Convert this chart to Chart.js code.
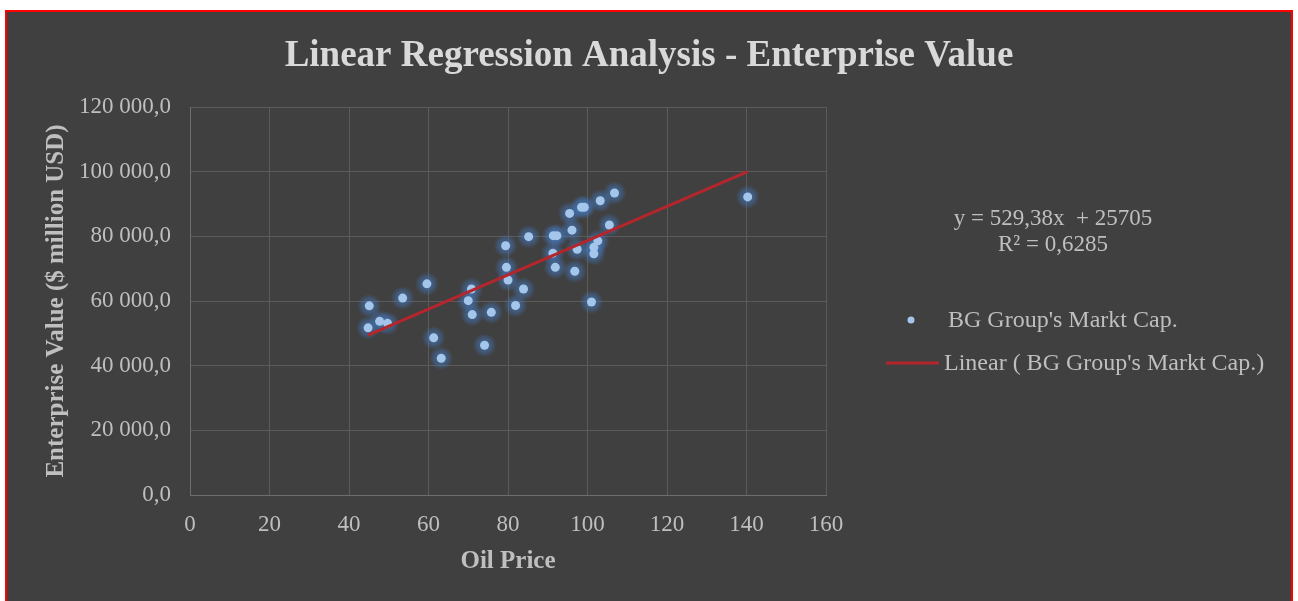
<!DOCTYPE html>
<html>
<head>
<meta charset="utf-8">
<script src="https://cdn.jsdelivr.net/npm/chart.js@4.4.1/dist/chart.umd.min.js"></script>
<style>
    body { margin: 0; background: #ffffff; }
    #frame {
        position: absolute;
        left: 5px;
        top: 10px;
        width: 1284px;
        height: 600px;
        border: 2px solid #ff0000;
        background: #404040;
    }
    #regChart { display: block; }
</style>
</head>
<body>
<div id="frame">
    <canvas id="regChart" width="1284" height="589"></canvas>
</div>
<script>
// Dữ liệu
const oilPrice = [
    44.8, 45.1, 47.7, 49.7, 53.5, 59.6, 61.3, 63.2, 70.0, 70.8,
    71.0, 74.1, 75.8, 79.4, 79.6, 80.0, 81.9, 83.9, 85.2, 91.3,
    91.4, 92.3, 91.9, 95.5, 96.1, 96.8, 97.4, 98.5, 99.2, 101.0,
    101.6, 101.6, 102.6, 103.2, 105.5, 106.8, 140.3
];
const enterpriseValue = [
    51700, 58500, 53700, 53100, 60900, 65300, 48600, 42300, 60100, 63700,
    55800, 46300, 56500, 77100, 70400, 66500, 58600, 63700, 79900, 74800,
    80200, 80200, 70400, 87100, 81900, 69200, 76000, 89000, 89000, 59700,
    74600, 76600, 78600, 91000, 83500, 93400, 92200
];
const chartTitle = 'Linear Regression Analysis - Enterprise Value';
const seriesLabel = "BG Group's Markt Cap.";
const trendLabel = "Linear ( BG Group's Markt Cap.)";
const trendSlope = 529.38;
const trendIntercept = 25705;
const trendTextLines = ['y = 529,38x  + 25705', 'R² = 0,6285'];
const xTicks = [0, 20, 40, 60, 80, 100, 120, 140, 160];
const yTicks = [0, 20000, 40000, 60000, 80000, 100000, 120000];

const serif = "'Liberation Serif', 'Times New Roman', serif";
const textColor = '#bfbfbf';
const pointColor = '#a4c6ea';
const trendColor = '#b4262c';

const points = oilPrice.map((x, i) => ({ x: x, y: enterpriseValue[i] }));
const minX = Math.min(...oilPrice);
const maxX = Math.max(...oilPrice);
const trendPoints = [minX, maxX].map(x => ({ x: x, y: trendSlope * x + trendIntercept }));

function formatValue(v) {
    // 120000 -> "120 000,0"
    const parts = v.toFixed(1).split('.');
    const intPart = parts[0].replace(/\B(?=(\d{3})+(?!\d))/g, ' ');
    return intPart + ',' + parts[1];
}

// Quầng sáng xanh quanh các điểm (dùng toạ độ do Chart.js tính)
const glowPlugin = {
    id: 'glow',
    beforeDatasetDraw(chart, args) {
        if (args.index !== 0) return;
        const ctx = chart.ctx;
        ctx.save();
        args.meta.data.forEach(pt => {
            const g = ctx.createRadialGradient(pt.x, pt.y, 0, pt.x, pt.y, 12);
            g.addColorStop(0, 'rgba(68, 120, 190, 0.75)');
            g.addColorStop(0.55, 'rgba(68, 120, 190, 0.45)');
            g.addColorStop(1, 'rgba(68, 120, 190, 0)');
            ctx.fillStyle = g;
            ctx.beginPath();
            ctx.arc(pt.x, pt.y, 12, 0, Math.PI * 2);
            ctx.fill();
        });
        ctx.restore();
    }
};

// Tiêu đề, chú thích + phương trình hồi quy
const sideLegendPlugin = {
    id: 'sideLegend',
    afterDraw(chart) {
        const ctx = chart.ctx;
        ctx.save();
        ctx.fillStyle = '#d9d9d9';
        ctx.font = 'bold 37px ' + serif;
        ctx.textAlign = 'center';
        ctx.textBaseline = 'middle';
        ctx.fillText(chartTitle, chart.width / 2, 44);

        ctx.fillStyle = textColor;
        ctx.font = '23px ' + serif;
        trendTextLines.forEach((line, i) => {
            ctx.fillText(line, 1046, 207 + i * 26);
        });

        ctx.font = '24px ' + serif;
        ctx.textAlign = 'left';
        // điểm
        ctx.fillStyle = pointColor;
        ctx.beginPath();
        ctx.arc(904, 308, 3.5, 0, Math.PI * 2);
        ctx.fill();
        ctx.fillStyle = textColor;
        ctx.fillText(chart.data.datasets[0].label, 941, 309);
        // đường
        ctx.strokeStyle = trendColor;
        ctx.lineWidth = 3;
        ctx.beginPath();
        ctx.moveTo(879, 351);
        ctx.lineTo(932, 351);
        ctx.stroke();
        ctx.fillText(chart.data.datasets[1].label, 937, 352);
        ctx.restore();
    }
};

const ctx = document.getElementById('regChart').getContext('2d');
new Chart(ctx, {
    type: 'scatter',
    data: {
        datasets: [{
            label: seriesLabel,
            data: points,
            backgroundColor: pointColor,
            borderColor: pointColor,
            borderWidth: 0,
            pointRadius: 4.5,
            order: 1
        }, {
            type: 'line',
            label: trendLabel,
            data: trendPoints,
            borderColor: trendColor,
            borderWidth: 3,
            pointRadius: 0,
            fill: false,
            order: 0
        }]
    },
    options: {
        responsive: false,
        animation: false,
        layout: {
            padding: { left: 0, right: 465, top: 95, bottom: 23 }
        },
        scales: {
            x: {
                type: 'linear',
                min: 0,
                max: 160,
                afterBuildTicks: scale => { scale.ticks = xTicks.map(v => ({ value: v })); },
                afterFit: scale => { scale.height = 83; },
                grid: { color: '#5b5b5b', lineWidth: 1, drawTicks: false },
                border: { color: '#6e6e6e', width: 1 },
                ticks: {
                    color: textColor,
                    padding: 16,
                    font: { family: serif, size: 23 }
                },
                title: {
                    display: true,
                    text: 'Oil Price',
                    color: textColor,
                    padding: { top: 0, bottom: 1 },
                    font: { family: serif, size: 25, weight: 'bold' }
                }
            },
            y: {
                type: 'linear',
                min: 0,
                max: 120000,
                afterBuildTicks: scale => { scale.ticks = yTicks.map(v => ({ value: v })); },
                afterFit: scale => { scale.width = 183; },
                grid: { color: '#5b5b5b', lineWidth: 1, drawTicks: false },
                border: { color: '#6e6e6e', width: 1 },
                ticks: {
                    color: textColor,
                    padding: 19,
                    font: { family: serif, size: 23 },
                    callback: v => formatValue(v)
                },
                title: {
                    display: true,
                    text: 'Enterprise Value ($ million USD)',
                    color: textColor,
                    padding: { top: 35, bottom: 0 },
                    font: { family: serif, size: 25, weight: 'bold' }
                }
            }
        },
        plugins: {
            legend: { display: false },
            tooltip: { enabled: false },
            title: { display: false }
        }
    },
    plugins: [glowPlugin, sideLegendPlugin]
});
</script>
</body>
</html>
